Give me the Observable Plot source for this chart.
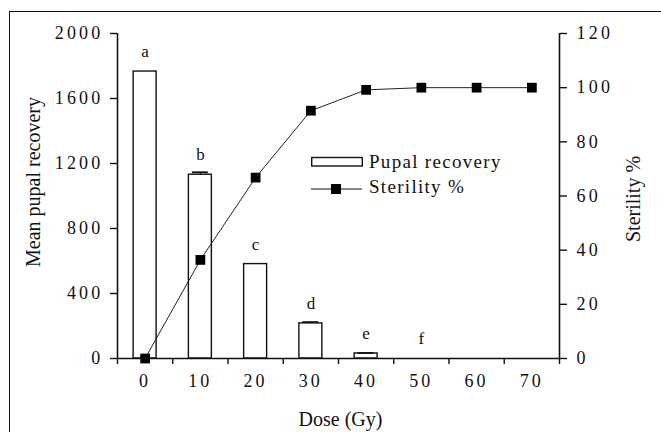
<!DOCTYPE html>
<html>
<head>
<meta charset="utf-8">
<script src="https://cdn.jsdelivr.net/npm/d3@7"></script>
<script src="https://cdn.jsdelivr.net/npm/@observablehq/plot@0.6"></script>
<style>
  html, body { margin: 0; padding: 0; background: #fff; overflow: hidden; }
  #wrap { position: relative; width: 661px; height: 432px; }
  #frame { position: absolute; left: 9px; top: 11px; width: 700px; height: 500px;
           border-top: 1.5px solid #111; border-left: 1.5px solid #111; pointer-events: none; }
  svg text { fill: #111; }
  g[aria-label="y-axis tick label"] text,
  g[aria-label="x-axis tick label"] text { letter-spacing: 3.2px; }
  g[aria-label="ytitle"] text { letter-spacing: 0.8px; }
  g[aria-label="y2title"] text { letter-spacing: 2.1px; }
  g[aria-label="xtitle"] text { letter-spacing: 2.5px; }
  #legend { position: absolute; left: 311px; top: 152px; font-family: "Liberation Serif", serif;
            font-size: 19px; color: #111; letter-spacing: 1.3px; }
  #legend .row { position: relative; height: 25px; white-space: nowrap; }
  #legend svg { position: absolute; left: 0; top: 0; }
  #legend span { position: absolute; left: 58px; top: 0; line-height: 20px; }
</style>
</head>
<body>
<div id="wrap"><div id="frame"></div>
  <div id="legend">
    <div class="row"><svg width="54" height="20"><rect x="0.7" y="5.5" width="50.6" height="8.5" fill="#fff" stroke="#111" stroke-width="1.4"/></svg><span>Pupal recovery</span></div>
    <div class="row"><svg width="54" height="20"><line x1="0" x2="51" y1="12" y2="12" stroke="#111" stroke-width="1.2"/><rect x="20" y="7" width="10" height="10" fill="#000"/></svg><span>Sterility %</span></div>
  </div>
</div>
<script>
// Data
const doses = [0, 10, 20, 30, 40, 50, 60, 70];
const pupalRecovery = [1766, 1131, 581, 216, 31, 0, 0, 0];
const pupalError = [0, 15, 0, 8, 3, 0, 0, 0];
const letters = ["a", "b", "c", "d", "e", "f", "", ""];
const sterility = [0, 36.4, 66.8, 91.5, 99.2, 100, 100, 100];
const leftTicks = [0, 400, 800, 1200, 1600, 2000];
const rightTicks = [0, 20, 40, 60, 80, 100, 120];

const k = 2000 / 120; // right axis (sterility %) mapped onto left axis range
const halfBar = 2.08;  // half bar width in dose units
const halfCap = 1.45;

const rows = doses.map((d, i) => ({
  dose: d, rec: pupalRecovery[i], err: pupalError[i], letter: letters[i], ster: sterility[i]
}));
const barRows = rows.filter(r => r.rec > 0);
const errRows = rows.filter(r => r.err > 0);

const ink = "#111";
const plot = Plot.plot({
  width: 661,
  height: 432,
  marginLeft: 117,
  marginRight: 102,
  marginTop: 33,
  marginBottom: 74,
  style: { fontFamily: "Liberation Serif, serif", fontSize: "18px", background: "transparent", color: ink },
  x: { type: "linear", domain: [-5, 75] },
  y: { domain: [0, 2000] },
  marks: [
    Plot.rectY(barRows, { x1: d => d.dose - halfBar, x2: d => d.dose + halfBar, y1: 0, y2: "rec",
      fill: "#fff", stroke: ink, strokeWidth: 1.4 }),
    Plot.ruleX(errRows, { x: "dose", y1: "rec", y2: d => d.rec + d.err, stroke: ink, strokeWidth: 1.4 }),
    Plot.ruleY(errRows, { y: d => d.rec + d.err, x1: d => d.dose - halfCap, x2: d => d.dose + halfCap, stroke: ink, strokeWidth: 1.8 }),
    Plot.text(rows.filter(r => r.letter), { x: "dose", y: "rec", text: "letter", dy: -20, fontSize: 17 }),
    Plot.line(rows, { x: "dose", y: d => d.ster * k, stroke: "#222", strokeWidth: 1 }),
    Plot.dot(rows, { x: "dose", y: d => d.ster * k, symbol: "square", r: 5.5, fill: "#000", stroke: "none" }),
    // axis lines
    Plot.ruleY([0], { x1: -5, x2: 75, stroke: ink, strokeWidth: 1.6 }),
    Plot.ruleX([-5], { y1: 0, y2: 2000, stroke: ink, strokeWidth: 1.6 }),
    Plot.ruleX([75], { y1: 0, y2: 2000, stroke: ink, strokeWidth: 1.6 }),
    // axes
    Plot.axisY(leftTicks, { anchor: "left", tickSize: 7, tickPadding: 7, strokeWidth: 1.4, label: null,
      tickFormat: v => String(v) }),
    Plot.axisY(rightTicks.map(v => v * k), { anchor: "right", tickSize: 7, tickPadding: 10, strokeWidth: 1.4,
      tickFormat: v => String(Math.round(v / k)), label: null }),
    Plot.axisX(d3.range(-5, 76, 10), { tickSize: 6, tickFormat: () => "", strokeWidth: 1.4, label: null }),
    Plot.axisX(doses, { tickSize: 0, tickPadding: 16, label: null }),
    // axis titles
    Plot.text(["Mean pupal recovery"], { frameAnchor: "left", textAnchor: "middle", lineAnchor: "middle",
      dx: -84, dy: -14, rotate: -90, fontSize: 20, ariaLabel: "ytitle" }),
    Plot.text(["Sterility %"], { frameAnchor: "right", textAnchor: "middle", lineAnchor: "middle",
      dx: 74, dy: 3, rotate: -90, fontSize: 20, ariaLabel: "y2title" }),
    Plot.text(["Dose (Gy)"], { frameAnchor: "bottom", textAnchor: "middle", lineAnchor: "middle",
      dx: 2, dy: 61, fontSize: 20, ariaLabel: "xtitle" })
  ]
});
document.getElementById("wrap").insertBefore(plot, document.getElementById("frame"));
</script>
</body>
</html>
